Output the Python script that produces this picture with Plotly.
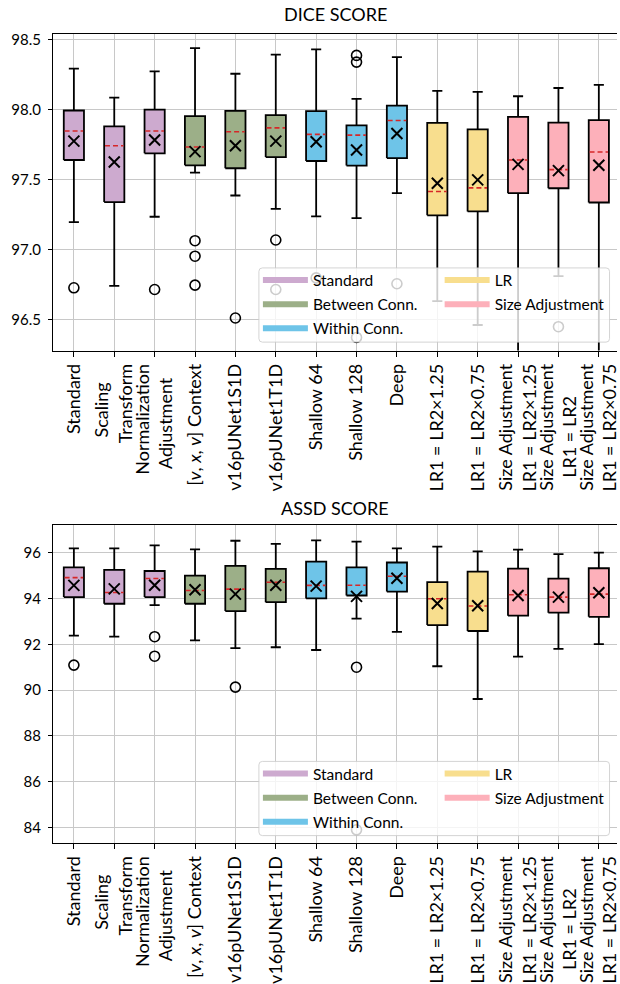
import plotly.graph_objects as go

NB = "\u00a0"  # non-breaking space used to centre the shorter line of two-line labels

# ---- categories -------------------------------------------------------------
labels = [
    "Standard",
    "Scaling" + NB * 4 + "<br>Transform",
    "Normalization<br>Adjustment" + NB * 3,
    "[<i>v</i>, <i>x</i>, <i>v</i>] Context",
    "v16pUNet1S1D",
    "v16pUNet1T1D",
    "Shallow 64",
    "Shallow 128",
    "Deep",
    "LR1 = LR2×1.25",
    "LR1 = LR2×0.75",
    "Size Adjustment<br>LR1 = LR2×1.25",
    "Size Adjustment<br>LR1 = LR2" + NB * 7,
    "Size Adjustment<br>LR1 = LR2×0.75",
]
groups = ["Standard"] * 3 + ["Between Conn."] * 3 + ["Within Conn."] * 3 + ["LR"] * 2 + ["Size Adjustment"] * 3

group_colors = {
    "Standard": "#CDAACF",
    "Between Conn.": "#9CAF88",
    "Within Conn.": "#6EC4E8",
    "LR": "#F8DE8E",
    "Size Adjustment": "#FDB0BA",
}
legend_col1 = ["Standard", "Between Conn.", "Within Conn."]
legend_col2 = ["LR", "Size Adjustment"]

# ---- DICE score statistics --------------------------------------------------
dice_upper = [98.292, 98.085, 98.273, 98.439, 98.256, 98.392, 98.430, 98.076, 98.375, 98.133, 98.126, 98.095, 98.154, 98.176]
dice_q3 = [97.993, 97.879, 98.000, 97.953, 97.990, 97.960, 97.988, 97.886, 98.028, 97.905, 97.858, 97.948, 97.907, 97.924]
dice_median = [97.846, 97.741, 97.846, 97.732, 97.841, 97.869, 97.822, 97.817, 97.922, 97.414, 97.440, 97.639, 97.570, 97.696]
dice_mean = [97.774, 97.625, 97.782, 97.699, 97.741, 97.774, 97.770, 97.710, 97.829, 97.473, 97.497, 97.608, 97.563, 97.601]
dice_q1 = [97.639, 97.338, 97.687, 97.601, 97.580, 97.660, 97.632, 97.599, 97.653, 97.243, 97.271, 97.402, 97.437, 97.335]
dice_lower = [97.195, 96.739, 97.233, 97.549, 97.385, 97.290, 97.236, 97.224, 97.402, 96.630, 96.459, 96.250, 96.808, 96.200]
dice_outliers = [
    [96.725], [], [96.713], [97.062, 96.951, 96.744], [96.509], [97.067, 96.713],
    [96.796], [98.387, 98.339, 96.370], [96.754], [], [], [], [96.447], [],
]

# ---- ASSD score statistics --------------------------------------------------
assd_upper = [96.19, 96.19, 96.32, 96.14, 96.52, 96.38, 96.54, 96.48, 96.19, 96.26, 96.06, 96.13, 95.94, 96.00]
assd_q3 = [95.36, 95.25, 95.20, 95.00, 95.42, 95.29, 95.61, 95.36, 95.57, 94.71, 95.17, 95.30, 94.87, 95.32]
assd_median = [94.91, 94.26, 94.87, 94.35, 94.41, 94.71, 94.57, 94.58, 94.97, 93.99, 93.67, 94.16, 94.06, 94.19]
assd_mean = [94.57, 94.42, 94.58, 94.38, 94.19, 94.58, 94.54, 94.09, 94.88, 93.78, 93.68, 94.13, 94.06, 94.25]
assd_q1 = [94.06, 93.77, 94.06, 93.77, 93.45, 93.84, 94.00, 94.13, 94.30, 92.84, 92.58, 93.25, 93.38, 93.20]
assd_lower = [92.38, 92.33, 93.71, 92.17, 91.83, 91.87, 91.75, 93.12, 92.54, 91.04, 89.61, 91.46, 91.80, 92.01]
assd_outliers = [
    [91.09], [], [92.33, 91.48], [], [90.13], [], [], [91.00, 83.90], [], [], [], [], [], [],
]

# ---- styling ----------------------------------------------------------------
W, H = 620, 984
ML = 53                      # left margin (px)
PW = W - ML                  # plot width (px)
BOX_HALF = 0.25
CAP_HALF = 0.125
LINE_W = 1.8
MEDIAN_COLOR = "#d62728"
YTICK_FONT = dict(family="Lato", size=15, color="black")
XTICK_FONT = dict(family="Lato", size=18, color="black")
LEGEND_FONT = dict(family="Lato", size=15.5, color="black")

positions = list(range(1, len(labels) + 1))

fig = go.Figure()


def px_x(px):
    return (px - ML) / PW


def px_y(py):
    return 1 - py / H


def add_boxplot(stats, xa, ya):
    upper, q3, med, mean, q1, lower, outl = stats
    # filled boxes, one polygon trace per colour group
    for g in group_colors:
        xs, ys = [], []
        for p, gg, a, b in zip(positions, groups, q1, q3):
            if gg != g:
                continue
            xs += [p - BOX_HALF, p + BOX_HALF, p + BOX_HALF, p - BOX_HALF, p - BOX_HALF, None]
            ys += [a, a, b, b, a, None]
        fig.add_trace(go.Scatter(x=xs, y=ys, mode="lines", fill="toself", fillcolor=group_colors[g],
                                 line=dict(color="black", width=LINE_W), xaxis=xa, yaxis=ya,
                                 showlegend=False, hoverinfo="skip"))
    # whiskers and caps
    wx, wy = [], []
    for p, lo, a, b, hi in zip(positions, lower, q1, q3, upper):
        wx += [p, p, None, p, p, None]
        wy += [lo, a, None, b, hi, None]
        wx += [p - CAP_HALF, p + CAP_HALF, None, p - CAP_HALF, p + CAP_HALF, None]
        wy += [lo, lo, None, hi, hi, None]
    fig.add_trace(go.Scatter(x=wx, y=wy, mode="lines", line=dict(color="black", width=LINE_W),
                             xaxis=xa, yaxis=ya, showlegend=False, hoverinfo="skip"))
    # medians as red dashed lines
    mx, my = [], []
    for p, m in zip(positions, med):
        mx += [p - BOX_HALF + 0.02, p + BOX_HALF - 0.02, None]
        my += [m, m, None]
    fig.add_trace(go.Scatter(x=mx, y=my, mode="lines",
                             line=dict(color=MEDIAN_COLOR, width=1.6, dash="5px,3px"),
                             xaxis=xa, yaxis=ya, showlegend=False, hoverinfo="skip"))
    # means
    fig.add_trace(go.Scatter(x=positions, y=mean, mode="markers",
                             marker=dict(symbol="x-thin", size=11, line=dict(color="black", width=2)),
                             xaxis=xa, yaxis=ya, showlegend=False, hoverinfo="skip"))
    # outliers
    ox, oy = [], []
    for p, vals in zip(positions, outl):
        for v in vals:
            ox.append(p)
            oy.append(v)
    fig.add_trace(go.Scatter(x=ox, y=oy, mode="markers",
                             marker=dict(symbol="circle-open", size=10, color="black",
                                         line=dict(color="black", width=1.6)),
                             xaxis=xa, yaxis=ya, showlegend=False, hoverinfo="skip"))


add_boxplot((dice_upper, dice_q3, dice_median, dice_mean, dice_q1, dice_lower, dice_outliers), "x", "y")
add_boxplot((assd_upper, assd_q3, assd_median, assd_mean, assd_q1, assd_lower, assd_outliers), "x2", "y2")

# legend frame (rounded, semi-transparent) and two legend columns per panel
shapes = []
legends = {}
panels = [
    # (x axis, y axis, frame top px, legend names for column 1 / column 2)
    ("x", "y", 265.0, "legend", "legend2"),
    ("x2", "y2", 760.5, "legend3", "legend4"),
]
FRAME_L, FRAME_R, FRAME_H, RAD = 260.0, 612.5, 74.5, 3.5
for xa, ya, top, leg1, leg2 in panels:
    x0, x1 = px_x(FRAME_L), px_x(FRAME_R)
    y1, y0 = px_y(top), px_y(top + FRAME_H)
    rx, ry = RAD / PW, RAD / H
    path = (f"M{x0 + rx},{y1} L{x1 - rx},{y1} Q{x1},{y1} {x1},{y1 - ry} "
            f"L{x1},{y0 + ry} Q{x1},{y0} {x1 - rx},{y0} L{x0 + rx},{y0} "
            f"Q{x0},{y0} {x0},{y0 + ry} L{x0},{y1 - ry} Q{x0},{y1} {x0 + rx},{y1} Z")
    shapes.append(dict(type="path", path=path, xref="paper", yref="paper", layer="above",
                       fillcolor="rgba(255,255,255,0.8)", line=dict(color="rgba(204,204,204,0.85)", width=1)))
    for leg, names, left in ((leg1, legend_col1, 259.0), (leg2, legend_col2, 441.7)):
        for g in names:
            fig.add_trace(go.Scatter(x=[None], y=[None], mode="lines", name=g, legendgroup=leg + g,
                                     line=dict(color=group_colors[g], width=6),
                                     xaxis=xa, yaxis=ya, legend=leg, showlegend=True))
        legends[leg] = dict(
            x=px_x(left), y=px_y(top - 4.5), xanchor="left", yanchor="top",
            orientation="v", bgcolor="rgba(0,0,0,0)", borderwidth=0,
            font=LEGEND_FONT, itemwidth=45, tracegroupgap=1, traceorder="grouped",
        )

xaxis_common = dict(
    range=[0.483, 14.45], tickmode="array", tickvals=positions, ticktext=labels,
    tickangle=-90, tickfont=XTICK_FONT, ticks="outside", ticklen=5, tickwidth=1.2, tickcolor="black",
    ticklabeloverflow="allow",
    showline=True, linecolor="black", linewidth=1.2, mirror=True,
    showgrid=True, gridcolor="#c8c8c8", gridwidth=1, zeroline=False, domain=[0, 1],
)
yaxis_common = dict(
    ticks="outside", ticklen=4, tickwidth=1.2, tickcolor="black", tickfont=YTICK_FONT,
    ticklabelstandoff=4,
    showline=True, linecolor="black", linewidth=1.2,
    showgrid=True, gridcolor="#c8c8c8", gridwidth=1, zeroline=False,
)

fig.update_layout(
    width=W, height=H, autosize=False,
    margin=dict(l=ML, r=0, t=0, b=0),
    paper_bgcolor="white", plot_bgcolor="white",
    xaxis=dict(xaxis_common, anchor="y"),
    yaxis=dict(yaxis_common, domain=[px_y(348), px_y(30)], range=[96.276, 98.541],
               tickvals=[96.5, 97.0, 97.5, 98.0, 98.5], tickformat=".1f"),
    xaxis2=dict(xaxis_common, anchor="y2"),
    yaxis2=dict(yaxis_common, domain=[px_y(842.3), px_y(523.3)], range=[83.33, 97.20],
                tickvals=[84, 86, 88, 90, 92, 94, 96]),
    shapes=shapes,
    annotations=[
        dict(text="DICE SCORE", x=0.5, y=px_y(10.5), xref="paper", yref="paper",
             xanchor="center", yanchor="middle", showarrow=False,
             font=dict(family="Lato", size=18, color="black")),
        dict(text="ASSD SCORE", x=0.5, y=px_y(506), xref="paper", yref="paper",
             xanchor="center", yanchor="middle", showarrow=False,
             font=dict(family="Lato", size=18, color="black")),
    ],
    **legends,
)

fig.write_html("out.html")
